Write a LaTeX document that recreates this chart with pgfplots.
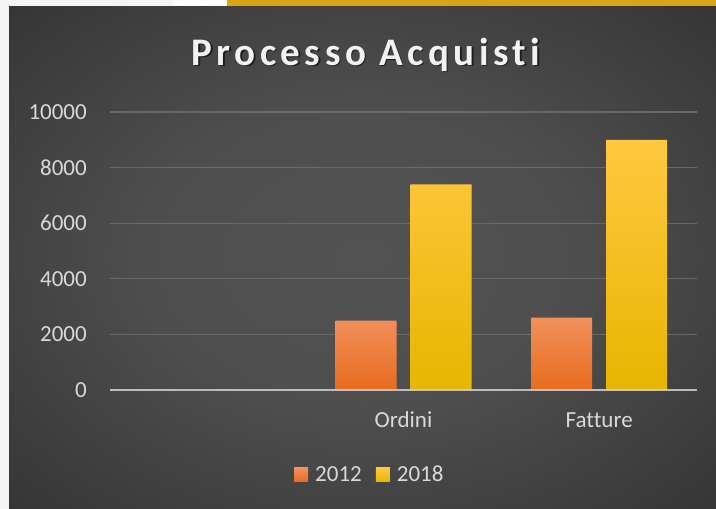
\documentclass[border=0pt]{standalone}
\usepackage{pgfplots}
\pgfplotsset{compat=1.18}
\usepackage{fontspec}
\setmainfont[Ligatures=NoCommon]{Carlito}
\definecolor{bginner}{RGB}{82,82,82}
\definecolor{bgouter}{RGB}{36,36,36}
\definecolor{txt}{RGB}{217,217,217}
\definecolor{gridc}{RGB}{105,105,105}
\definecolor{otop}{RGB}{242,144,92}
\definecolor{obot}{RGB}{232,108,30}
\definecolor{ytop}{RGB}{255,200,64}
\definecolor{ybot}{RGB}{230,182,0}
\definecolor{gold}{RGB}{218,165,20}
\definecolor{side}{RGB}{245,245,245}
\pgfdeclareradialshading{bgshade}{\pgfpoint{0bp}{0bp}}{color(0bp)=(bginner); color(15bp)=(bginner!92!bgouter); color(50bp)=(bgouter); color(72bp)=(bgouter)}

\begin{document}
\begin{tikzpicture}[x=1pt,y=1pt]
  % frame and background
  \fill[side] (0,0) rectangle (716,-509);
  \fill[white] (173,0) rectangle (227,-6);
  \fill[gold] (227,0) rectangle (716,-6);
  \shade[shading=bgshade] (9,-6) rectangle (716,-509);

  % title with a soft shadow
  \node[anchor=base,text=black,opacity=0.55,font=\fontsize{39}{42}\selectfont\bfseries\addfontfeatures{LetterSpace=11.5}] at (367.5,-66.5) {Processo Acquisti};
  \node[anchor=base,text=white!95!black,font=\fontsize{39}{42}\selectfont\bfseries\addfontfeatures{LetterSpace=11.5}] at (366,-65) {Processo Acquisti};

  \begin{axis}[
    at={(110pt,-390pt)}, anchor=south west,
    scale only axis,
    width=587pt, height=278pt,
    ymin=0, ymax=10000,
    ytick={0,2000,...,10000},
    scaled y ticks=false,
    xmin=-0.5, xmax=2.5,
    xtick={0,1,2},
    xticklabels={,Ordini,Fatture},
    ybar=14pt, bar width=61pt,
    major tick length=0pt,
    axis line style={draw=none},
    ymajorgrids, grid style={gridc, line width=1.2pt},
    /pgf/number format/assume math mode=true,
    /pgf/number format/1000 sep={},
    tick label style={text=txt, font=\fontsize{23}{27}\selectfont, inner sep=0pt},
    yticklabel style={anchor=east, xshift=-23pt},
    xticklabel style={anchor=base, yshift=-37pt},
    legend columns=2,
    legend style={at={(0.441,-0.305)}, anchor=center, draw=none, fill=none,
      text=txt, font=\fontsize{23}{27}\selectfont,
      /tikz/every even column/.append style={column sep=14pt},
      nodes={inner sep=0pt, outer sep=0pt},
      /tikz/every odd column/.append style={column sep=7pt}},
    legend image code/.code={\path[#1,draw=none] (0pt,-7pt) rectangle (14pt,7pt);},
  ]
    \addplot[draw=none, top color=otop, bottom color=obot] coordinates {(1,2500) (2,2600)};
    \addplot[draw=none, top color=ytop, bottom color=ybot] coordinates {(1,7400) (2,9000)};
    \legend{2012,2018}
    \draw[white!65!gray, line width=2.2pt, opacity=0.8] (axis cs:-0.5,0) -- (axis cs:2.5,0);
  \end{axis}
  \pgfresetboundingbox
  \path (0,0) rectangle (716,-509);
\end{tikzpicture}
\end{document}
